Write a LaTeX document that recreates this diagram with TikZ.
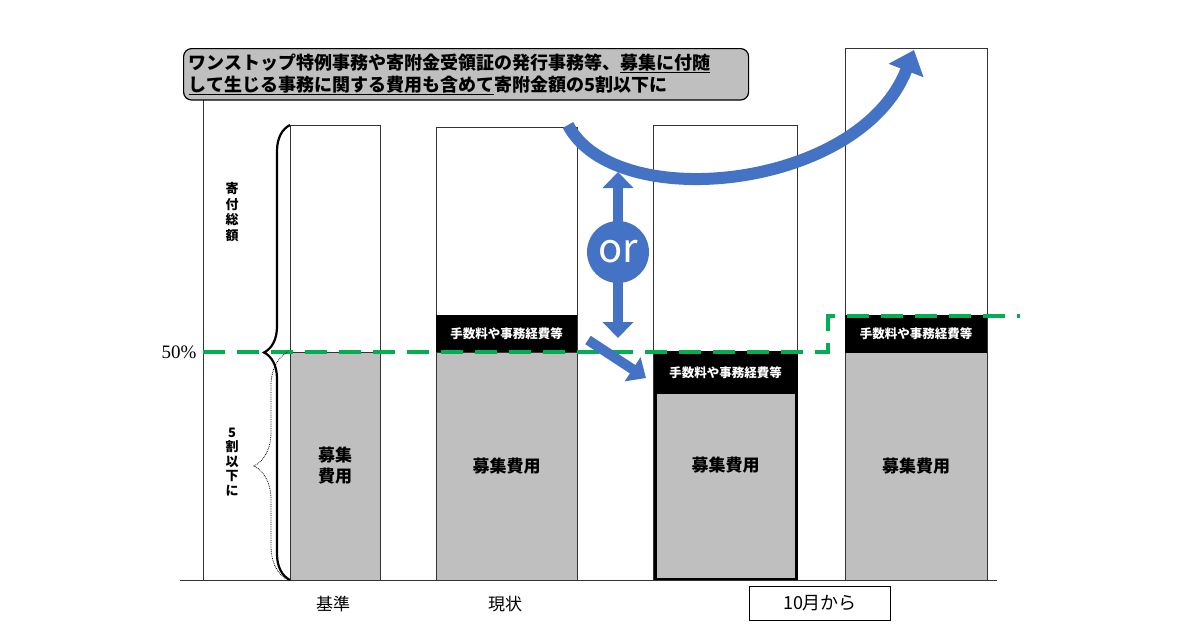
\documentclass[tikz,border=0pt]{standalone}
\usepackage{fontspec}
\setmainfont{Noto Sans CJK JP}
\newfontfamily\numfont{Liberation Serif}
\usetikzlibrary{positioning,arrows.meta,decorations.pathreplacing}

\definecolor{barGray}{RGB}{191,191,191}
\definecolor{arrowBlue}{RGB}{68,114,196}
\definecolor{lineGreen}{RGB}{0,176,80}
\tikzset{
  frame/.style={draw=black!80,fill=white,line width=1pt},
  cost/.style={draw=black!80,fill=barGray,line width=1pt,font=\bfseries\fontsize{17}{21}\selectfont},
  fee/.style={text=white,font=\bfseries\fontsize{12.5}{14}\selectfont},
  tag/.style={font=\bfseries\fontsize{13}{15.5}\selectfont,align=center},
}

\begin{document}
\begin{tikzpicture}[x=1pt,y=-1pt]
      \useasboundingbox (0,0) rectangle (1200,630);
      % frames and axes
      \draw[black!80,line width=1pt] (203,100) -- (203,580);
      \draw[frame] (290,125) rectangle (380,580);
      \draw[frame] (436,127) rectangle (577,580);
      \draw[frame] (653,125) rectangle (797,580);
      \draw[frame] (845,48) rectangle (987,580);
      % cost blocks
      \draw[cost] (290,352) rectangle (380,580);
      \node[cost,draw=none,fill=none,align=center] (c0) at (335,466) {募集\\費用};
      \draw[cost] (436,352) rectangle node(c1){募集費用} (577,580);
      \fill (436,315) rectangle node[fee](f1){手数料や事務経費等} (577,352);
      \draw[cost,line width=3pt,draw=black] (655,352) rectangle node(c2){募集費用} (796,579);
      \fill (655,352) rectangle node[fee](f2){手数料や事務経費等} (796,394);
      \draw[cost] (845,352) rectangle node(c3){募集費用} (987,580);
      \fill (845,315) rectangle node[fee](f3){手数料や事務経費等} (987,353);
      \draw[black!80,line width=1pt] (180,580) -- (997,580);
      % 50% line
      \draw[lineGreen,line width=4pt,dash pattern=on 22pt off 12pt] (203,352) -- (828,352) -- (828,316) -- (1020,316);
      \node[font=\numfont\fontsize{19}{21}\selectfont,left] (pct) at (200,352) {50\%};
      % braces
      \draw[line width=2.2pt,decorate,decoration={brace,amplitude=26pt}] (290,580) -- (290,125);
      \draw[densely dotted,line width=0.8pt,decorate,decoration={brace,amplitude=34pt}] (288,580) -- (288,352);
      \node[tag] (total) at (232,212) {寄\\付\\総\\額};
      \node[tag,font=\bfseries\fontsize{13}{14.5}\selectfont] (half) at (232,462) {5\\割\\以\\下\\に};
      % note
      \node[draw,rounded corners=8pt,fill=barGray,line width=1.2pt,text width=555pt,
            align=left,font=\bfseries\fontsize{18}{22}\selectfont,
            anchor=north west,inner sep=5pt] (note) at (183,48)
        {ワンストップ特例事務や寄附金受領証の発行事務等、\underline{募集に付随}\\\underline{して生じる事務に関する費用も含めて}寄附金額の5割以下に};
      % or arrow
      \coordinate (up) at (618,172);
      \coordinate (dn) at (618,338);
      \draw[arrowBlue,line width=10pt,{Triangle[length=16pt,width=30pt]}-{Triangle[length=16pt,width=30pt]}] (up) -- (dn);
      \node[circle,fill=arrowBlue,minimum size=62pt,text=white,font=\fontsize{40}{42}\selectfont,inner sep=0pt] (or) at (618,252) {or};
      \coordinate (sl) at (588,340);
      \coordinate (se) at (646,378);
      \draw[arrowBlue,line width=10pt,-{Triangle[length=16pt,width=28pt]}] (sl) -- (se);
      \coordinate (cs) at (568,125);
      \coordinate (ce) at (914,50);
      \draw[arrowBlue,line width=12pt,-{Triangle[length=22pt,width=36pt]}] (cs) .. controls (615,215) and (860,190) .. (ce);
      % labels
      \node[font=\fontsize{17}{19}\selectfont] (base) at (333,604) {基準};
      \node[font=\fontsize{17}{19}\selectfont] (now) at (505,604) {現状};
      \node[draw,line width=1pt,font=\fontsize{18}{20}\selectfont,minimum width=141pt,minimum height=34pt] (oct) at (820,603) {10月から};
\end{tikzpicture}
\end{document}
